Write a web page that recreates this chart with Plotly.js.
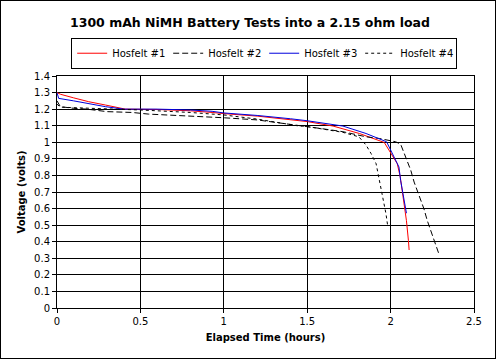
<!DOCTYPE html>
<html>
<head>
<meta charset="utf-8">
<script src="https://cdn.plot.ly/plotly-3.0.1.min.js"></script>
<style>
html,body{margin:0;padding:0;background:#fff;}
#chart{width:494px;height:357px;border:1px solid #000;}
</style>
</head>
<body>
<div id="chart"></div>
<script>
// Hosfelt #1 (red)
var t1 = [0, 0.02, 0.1, 0.19, 0.29, 0.41, 0.6, 0.8, 0.93, 1.0, 1.2, 1.4, 1.5, 1.655, 1.813, 1.962, 2.002, 2.04, 2.058, 2.071, 2.087, 2.095, 2.107, 2.111];
var v1 = [1.30, 1.29, 1.268, 1.245, 1.225, 1.2, 1.198, 1.19, 1.18, 1.173, 1.158, 1.138, 1.125, 1.098, 1.053, 0.999, 0.932, 0.871, 0.79, 0.70, 0.608, 0.527, 0.406, 0.35];
// Hosfelt #2 (long dash)
var t2 = [0, 0.02, 0.1, 0.18, 0.3, 0.45, 0.55, 0.7, 0.9, 1.0, 1.2, 1.4, 1.5, 1.575, 1.714, 1.853, 1.933, 1.992, 2.03, 2.06, 2.09, 2.121, 2.141, 2.171, 2.2, 2.22, 2.25, 2.29];
var v2 = [1.25, 1.215, 1.205, 1.2, 1.185, 1.18, 1.17, 1.163, 1.155, 1.148, 1.135, 1.11, 1.095, 1.084, 1.064, 1.033, 1.023, 1.009, 1.003, 0.989, 0.912, 0.831, 0.76, 0.679, 0.598, 0.527, 0.446, 0.325];
// Hosfelt #3 (blue)
var t3 = [0, 0.01, 0.1, 0.19, 0.29, 0.4, 0.6, 0.8, 0.93, 1.0, 1.2, 1.4, 1.5, 1.714, 1.853, 1.976, 2.012, 2.05, 2.06, 2.075, 2.087, 2.095];
var v3 = [1.30, 1.265, 1.25, 1.232, 1.215, 1.2, 1.2, 1.195, 1.187, 1.177, 1.162, 1.142, 1.13, 1.098, 1.053, 1.003, 0.932, 0.851, 0.77, 0.69, 0.62, 0.572];
// Hosfelt #4 (short dash)
var t4 = [0, 0.02, 0.2, 0.5, 0.8, 1.0, 1.2, 1.44, 1.5, 1.64, 1.714, 1.81, 1.853, 1.883, 1.913, 1.923, 1.933, 1.948, 1.962, 1.972, 1.982];
var v4 = [1.23, 1.212, 1.205, 1.195, 1.18, 1.165, 1.14, 1.10, 1.095, 1.074, 1.06, 1.033, 0.983, 0.932, 0.871, 0.82, 0.77, 0.70, 0.63, 0.57, 0.50];

var names = ['Hosfelt #1', 'Hosfelt #2', 'Hosfelt #3', 'Hosfelt #4'];
var xTicks = [0, 0.5, 1, 1.5, 2, 2.5];
var yTicks = [0, 0.1, 0.2, 0.3, 0.4, 0.5, 0.6, 0.7, 0.8, 0.9, 1, 1.1, 1.2, 1.3, 1.4];

var traces = [
  {x: t1, y: v1, name: names[0], mode: 'lines', line: {color: '#ff0000', width: 1}},
  {x: t2, y: v2, name: names[1], mode: 'lines', line: {color: '#000000', width: 1, dash: '6px,3px'}},
  {x: t3, y: v3, name: names[2], mode: 'lines', line: {color: '#0000dd', width: 1}},
  {x: t4, y: v4, name: names[3], mode: 'lines', line: {color: '#000000', width: 1, dash: '3px,3px'}}
];

var layout = {
  width: 494, height: 357,
  margin: {l: 56, r: 21, t: 75, b: 50},
  paper_bgcolor: '#fff', plot_bgcolor: '#fff',
  font: {family: 'DejaVu Sans, sans-serif', size: 10, color: '#000'},
  title: {text: '1300 mAh NiMH Battery Tests into a 2.15 ohm load', font: {size: 12.5, weight: 'bold', family: 'DejaVu Sans, sans-serif'}, x: 0.504, xanchor: 'center', xref: 'container', y: 0.94, yanchor: 'middle'},
  showlegend: true,
  legend: {orientation: 'h', x: 0.034, xanchor: 'left', y: 1.165, yanchor: 'top', bgcolor: '#fff', bordercolor: '#000', borderwidth: 1, font: {size: 10}, tracegroupgap: 0, entrywidth: 51, entrywidthmode: 'pixels', itemclick: false},
  xaxis: {
    range: [0, 2.5], tickvals: xTicks, ticktext: xTicks.map(String),
    showgrid: true, gridcolor: '#000', gridwidth: 1,
    showline: true, linecolor: '#000', linewidth: 1, mirror: true,
    ticks: 'outside', ticklen: 4, tickcolor: '#000', zeroline: false,
    title: {text: 'Elapsed Time (hours)', font: {size: 10, weight: 'bold'}, standoff: 7}
  },
  yaxis: {
    range: [0, 1.4], tickvals: yTicks, ticktext: yTicks.map(String),
    showgrid: true, gridcolor: '#000', gridwidth: 1,
    showline: true, linecolor: '#000', linewidth: 1, mirror: true,
    ticks: 'outside', ticklen: 4, tickcolor: '#000', zeroline: false,
    title: {text: 'Voltage (volts)', font: {size: 10, weight: 'bold'}, standoff: 6}
  }
};

Plotly.newPlot('chart', traces, layout, {staticPlot: true, displayModeBar: false});
</script>
</body>
</html>
